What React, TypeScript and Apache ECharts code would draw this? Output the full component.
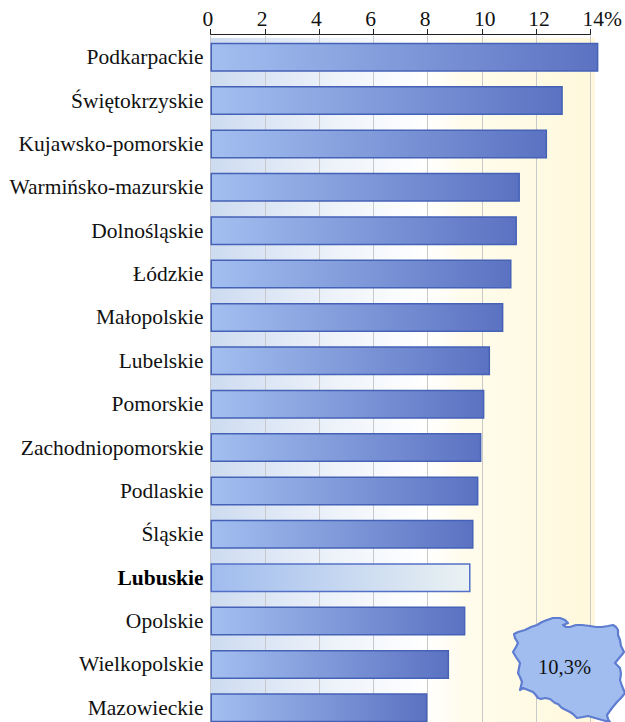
import React, { useEffect, useRef } from "react";
import * as echarts from "echarts";

const categories = [
  "Podkarpackie", "Świętokrzyskie", "Kujawsko-pomorskie", "Warmińsko-mazurskie",
  "Dolnośląskie", "Łódzkie", "Małopolskie", "Lubelskie", "Pomorskie",
  "Zachodniopomorskie", "Podlaskie", "Śląskie", "Lubuskie", "Opolskie",
  "Wielkopolskie", "Mazowieckie",
];
const values = [14.29, 12.98, 12.4, 11.4, 11.29, 11.09, 10.79, 10.3, 10.09, 9.98, 9.87, 9.69, 9.58, 9.39, 8.79, 7.99];
const highlighted = "Lubuskie";
const nationalAverage = "10,3%";

const POLAND =
  "M514 634L518 632L525 630L531 627L537 625L542 622L547 620L553 618L560 618L565 620L568 623L563 625L566 627L570 627L576 625L582 625L590 626L596 627L602 627L608 626L613 625L616 627L618 630L618 635L620 640L621 646L624 652L620 657L615 663L618 666L620 668L621 674L620 680L622 686L625 693L621 698L617 702L612 708L607 715L608 719L610 722L602 720L595 718L588 716L583 717L577 718L573 714L570 712L566 710L562 708L558 704L555 703L550 699L545 698L541 699L538 698L535 694L533 692L528 690L523 688L520 690L521 686L522 682L520 677L518 673L519 668L520 663L516 657L513 652L516 647L518 643L515 638Z";
echarts.graphic.registerShape("poland", echarts.graphic.extendPath(POLAND, {}));

const grad = (stops: [number, string][]) =>
  new echarts.graphic.LinearGradient(0, 0, 1, 0, stops.map(([offset, color]) => ({ offset, color })));

export default function App() {
  const ref = useRef<HTMLDivElement>(null);
  useEffect(() => {
    const chart = echarts.init(ref.current!, null, { renderer: "svg" });
    const font = '"Liberation Serif", "Times New Roman", serif';
    chart.setOption({
      animation: false,
      textStyle: { fontFamily: font },
      grid: { left: 210.5, top: 35.5, width: 380, height: 694, containLabel: false, outerBoundsMode: "none" },
      xAxis: {
        type: "value",
        position: "top",
        min: 0,
        max: 14,
        interval: 2,
        offset: 1.5,
        axisLine: { show: true, lineStyle: { color: "#222", width: 1 } },
        axisTick: { show: true, length: 5, lineStyle: { color: "#222", width: 1 } },
        splitLine: { show: true, lineStyle: { color: "#c9c9c9", width: 1 } },
        axisLabel: {
          fontSize: 21.5,
          fontFamily: font,
          color: "#111",
          margin: 4,
          align: "left",
          padding: [0, 0, 0, -8],
          formatter: (v: number) => (v === 14 ? "14%" : String(v)),
        },
      },
      yAxis: {
        type: "category",
        inverse: true,
        data: categories,
        axisLine: { show: false },
        axisTick: { show: false },
        axisLabel: {
          fontSize: 21.5,
          fontFamily: font,
          color: "#111",
          margin: 7,
          formatter: (v: string) => (v === highlighted ? `{b|${v}}` : v),
          rich: { b: { fontSize: 21.5, fontFamily: font, fontWeight: "bold", color: "#000" } },
        },
      },
      series: [
        {
          type: "bar",
          clip: false,
          barWidth: 29,
          data: values.map((value, i) => ({
            value,
            itemStyle:
              categories[i] === highlighted
                ? {
                    color: grad([[0, "#a0bcee"], [1, "#ebf2f3"]]),
                    borderColor: "#5470c6",
                    borderWidth: 1.5,
                  }
                : {
                    color: grad([[0, "#a3bff0"], [1, "#5b72c2"]]),
                    borderColor: "#4562b6",
                    borderWidth: 1.5,
                  },
          })),
          z: 3,
        },
      ],
      graphic: [
        {
          type: "rect",
          silent: true,
          z: -1,
          shape: { x: 210, y: 38, width: 385, height: 722 },
          style: {
            fill: grad([[0, "#cddbf0"], [0.33, "#eef3fa"], [0.56, "#ffffff"], [0.66, "#fffcec"], [1, "#fff8dc"]]),
          },
        },
        {
          type: "poland",
          z: 10,
          style: { fill: "#a1bdf0", stroke: "#5f7dd0", lineWidth: 2.2, lineJoin: "round" },
        },
        {
          type: "text",
          z: 11,
          x: 564.5,
          y: 667,
          style: {
            text: nationalAverage,
            fontSize: 20.5,
            fontFamily: font,
            fill: "#111",
            align: "center",
            verticalAlign: "middle",
          },
        },
      ],
    });
    return () => chart.dispose();
  }, []);
  return (
    <div style={{ position: "absolute", left: 0, top: 0, width: 625, height: 722, overflow: "hidden" }}>
      <div ref={ref} style={{ width: 625, height: 760 }} />
    </div>
  );
}
